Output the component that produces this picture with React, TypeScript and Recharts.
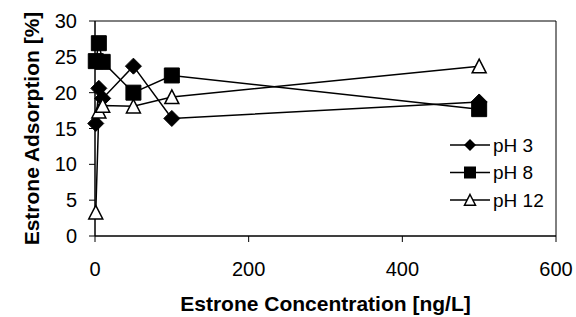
import React from 'react';
import { LineChart, Line, XAxis, YAxis, ReferenceArea } from 'recharts';

const concentrations = [1, 5, 10, 50, 100, 500];
const ph3Values = [15.7, 20.6, 19.2, 23.7, 16.4, 18.7];
const ph8Values = [24.4, 26.9, 24.3, 20.0, 22.4, 17.7];
const ph12Values = [3.3, 17.4, 18.2, 18.1, 19.4, 23.7];
const xTicks = [0, 200, 400, 600];
const yTicks = [0, 5, 10, 15, 20, 25, 30];
const seriesNames = ['pH 3', 'pH 8', 'pH 12'];

const data = concentrations.map((x, i) => ({
  x,
  ph3: ph3Values[i],
  ph8: ph8Values[i],
  ph12: ph12Values[i],
}));

const FONT = '"Liberation Sans", Arial, sans-serif';

const diamondPath = (cx: number, cy: number, r: number) =>
  `M${cx},${cy - r}L${cx + r},${cy}L${cx},${cy + r}L${cx - r},${cy}Z`;
const squarePath = (cx: number, cy: number, r: number) =>
  `M${cx - r},${cy - r}H${cx + r}V${cy + r}H${cx - r}Z`;
const trianglePath = (cx: number, cy: number, r: number) =>
  `M${cx},${cy - r}L${cx + r},${cy + r * 0.95}L${cx - r},${cy + r * 0.95}Z`;

const Diamond = (props: any) => {
  const { cx, cy, index } = props;
  if (cx == null || cy == null) return <g key={index} />;
  return <path key={index} d={diamondPath(cx, cy, 8)} fill="#000" stroke="#000" />;
};
const Square = (props: any) => {
  const { cx, cy, index } = props;
  if (cx == null || cy == null) return <g key={index} />;
  return <path key={index} d={squarePath(cx, cy, 7.5)} fill="#000" stroke="#000" />;
};
const Triangle = (props: any) => {
  const { cx, cy, index } = props;
  if (cx == null || cy == null) return <g key={index} />;
  return <path key={index} d={trianglePath(cx, cy, 7)} fill="#fff" stroke="#000" strokeWidth={1.5} />;
};

const LegendBox = () => {
  const rows = [
    (cx: number, cy: number) => <path d={diamondPath(cx, cy, 6)} fill="#000" />,
    (cx: number, cy: number) => <path d={squarePath(cx, cy, 6)} fill="#000" />,
    (cx: number, cy: number) => (
      <path d={trianglePath(cx, cy, 5.5)} fill="#fff" stroke="#000" strokeWidth={1.5} />
    ),
  ];
  return (
    <svg
      width={126}
      height={80}
      style={{ position: 'absolute', left: 450, top: 134, display: 'block' }}
    >
      {seriesNames.map((name, i) => {
        const cy = 11 + i * 27.5;
        return (
          <g key={name}>
            <line x1={0} x2={40} y1={cy} y2={cy} stroke="#000" strokeWidth={1.5} />
            {rows[i](20, cy)}
            <text x={43} y={cy} dy="0.36em" fontSize={19} fontFamily={FONT} fill="#000">
              {name}
            </text>
          </g>
        );
      })}
    </svg>
  );
};

export default function App() {
  return (
    <div style={{ position: 'absolute', left: 0, top: 0, width: 576, height: 317, background: '#fff' }}>
      <LineChart
        width={576}
        height={317}
        data={data}
        margin={{ top: 21, right: 20, bottom: 0, left: 0 }}
        style={{ fontFamily: FONT }}
      >
        <ReferenceArea x1={0} x2={600} y1={0} y2={30} fill="none" stroke="#000" strokeWidth={1} ifOverflow="visible" />
        <XAxis
          type="number"
          dataKey="x"
          domain={[0, 600]}
          ticks={xTicks}
          height={81}
          tickSize={6}
          tickMargin={20}
          axisLine={{ stroke: '#000', strokeWidth: 1 }}
          tickLine={{ stroke: '#000' }}
          tick={{ fill: '#000', fontSize: 20, fontFamily: FONT }}
          label={{
            value: 'Estrone Concentration [ng/L]',
            position: 'insideBottom',
            offset: 6,
            fill: '#000',
            fontSize: 21,
            fontWeight: 'bold',
            fontFamily: FONT,
          }}
        />
        <YAxis
          type="number"
          domain={[0, 30]}
          ticks={yTicks}
          width={95}
          tickSize={6}
          tickMargin={12}
          interval={0}
          axisLine={{ stroke: '#000', strokeWidth: 1 }}
          tickLine={{ stroke: '#000' }}
          tick={{ fill: '#000', fontSize: 20, fontFamily: FONT }}
          label={{
            value: 'Estrone Adsorption [%]',
            angle: -90,
            position: 'center',
            dx: -16,
            fill: '#000',
            fontSize: 21,
            fontWeight: 'bold',
            fontFamily: FONT,
          }}
        />
        <Line type="linear" dataKey="ph3" name="pH 3" stroke="#000" strokeWidth={1.5} dot={Diamond} isAnimationActive={false} />
        <Line type="linear" dataKey="ph8" name="pH 8" stroke="#000" strokeWidth={1.5} dot={Square} isAnimationActive={false} />
        <Line type="linear" dataKey="ph12" name="pH 12" stroke="#000" strokeWidth={1.5} dot={Triangle} isAnimationActive={false} />
      </LineChart>
      <LegendBox />
    </div>
  );
}
